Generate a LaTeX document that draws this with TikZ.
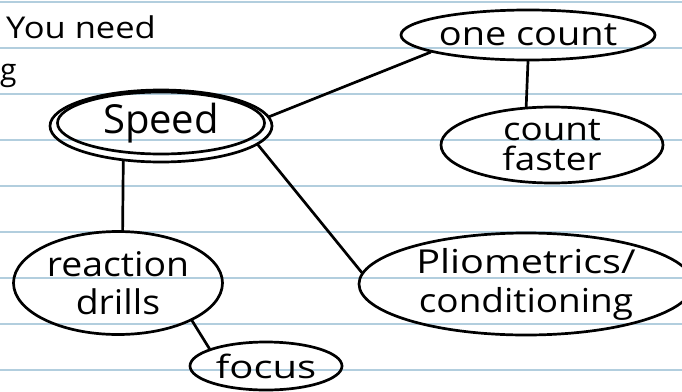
\documentclass[tikz,border=0pt]{standalone}
\usepackage{fontspec}
\setmainfont{Open Sans}
\usetikzlibrary{shapes.geometric}
\newcommand{\wid}[2]{\scalebox{#1}[1]{#2}}
\begin{document}
\begin{tikzpicture}[x=1pt,y=-1pt,
  bub/.style={ellipse, draw=black, line width=2.7pt, inner sep=0pt, align=center},
  link/.style={draw=black, line width=2.7pt, line cap=round},
  ruling/.style={draw={rgb,255:red,178;green,206;blue,222}, line width=2pt},
  hand/.style={inner sep=0pt, align=center}]
\useasboundingbox (0,0) rectangle (682,391);
\clip (0,0) rectangle (682,391);
\fill[white] (0,0) rectangle (682,391);
\foreach \yy in {2,48,94,140,186,232,278,324,370} \draw[ruling] (0,\yy) -- (682,\yy);
% texts at top left
\node[hand, anchor=west, font=\fontsize{30}{32}\selectfont] (need) at (6,27) {\wid{1.15}{You need}};
\node[hand, anchor=west, font=\fontsize{30}{32}\selectfont] (frag) at (0,76) {g};
% bubbles
\node[bub, minimum width=222pt, minimum height=72pt] (speedo) at (161,126) {};
\node[bub, minimum width=207pt, minimum height=62pt, font=\fontsize{40}{44}\selectfont] (speed) at (161,123) {Speed};
\node[bub, minimum width=254pt, minimum height=50pt, font=\fontsize{33}{36}\selectfont] (one) at (528,35) {\wid{1.15}{one count}};
\node[bub, minimum width=222pt, minimum height=76pt, font=\fontsize{32}{30}\selectfont] (cf) at (552,145) {\wid{1.15}{count}\\\wid{1.15}{faster}};
\node[bub, minimum width=209pt, minimum height=103pt, font=\fontsize{34}{38}\selectfont] (rd) at (118,283) {\wid{1.1}{reaction}\\\wid{1.1}{drills}};
\node[bub, minimum width=152pt, minimum height=48pt, font=\fontsize{32}{34}\selectfont] (focus) at (266,366) {\wid{1.25}{focus}};
\node[bub, minimum width=334pt, minimum height=102pt, font=\fontsize{33}{39}\selectfont] (plyo) at (526,284) {\wid{1.2}{Pliometrics/}\\\wid{1.12}{conditioning}};
% connectors
\draw[link] (speedo.5) -- (one.190);
\draw[link] (one.south) -- (cf.124);
\draw[link] (speedo.223) -- (rd.85);
\draw[link] (speedo.349) -- (plyo.176);
\draw[link] (rd.333) -- (focus.163);
\end{tikzpicture}
\end{document}
